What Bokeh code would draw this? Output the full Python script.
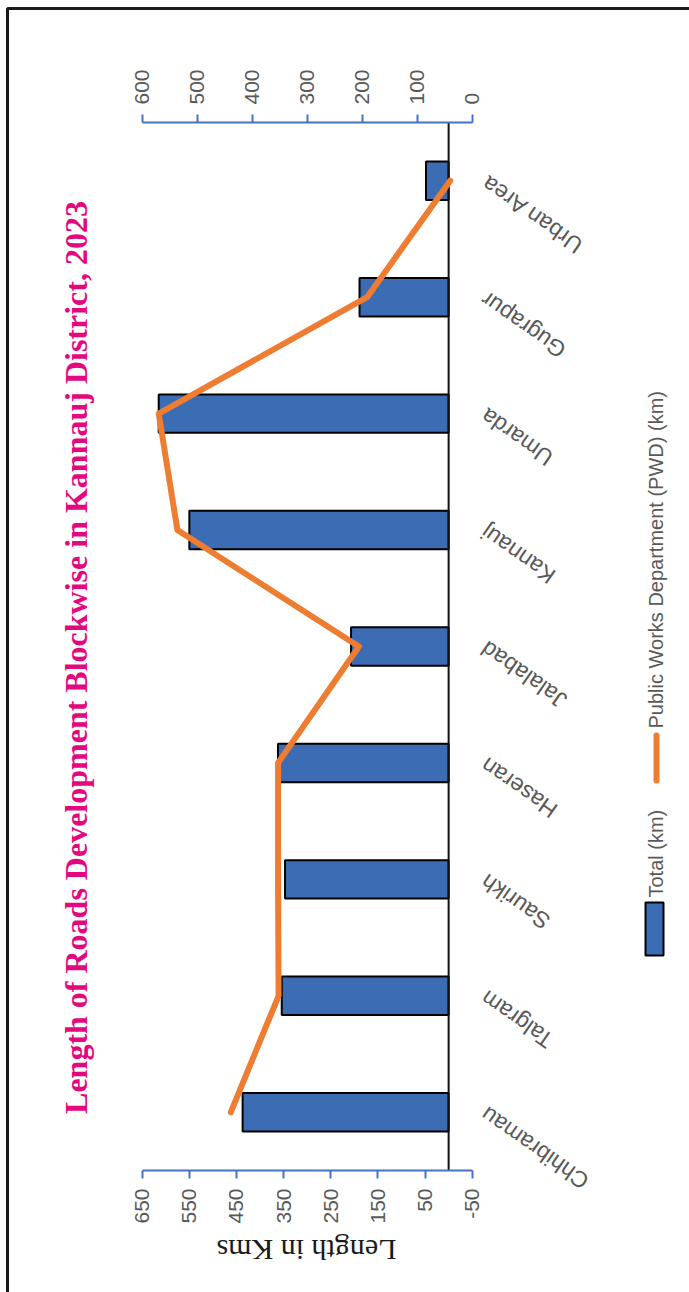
import math
from bokeh.plotting import figure
from bokeh.models import (FactorRange, Range1d, LinearAxis, FixedTicker, Label,
                          BoxAnnotation, ColumnDataSource, PrintfTickFormatter)
from bokeh.core.properties import value
from bokeh.embed import file_html
from bokeh.resources import INLINE

# ---------------- data ----------------
categories = ["Chhibramau", "Talgram", "Saurikh", "Haseran", "Jalalabad",
              "Kannauj", "Umarda", "Gugrapur", "Urban Area"]
total_km = [437, 354, 347, 362, 207, 550, 615, 189, 48]
pwd_km = [439, 352, 353, 353, 206, 536, 570, 191, 40]
primary_ticks = [-50, 50, 150, 250, 350, 450, 550, 650]
secondary_ticks = [0, 100, 200, 300, 400, 500, 600]
title_text = "Length of Roads Development Blockwise in Kannauj District, 2023"
axis_title = "Length in Kms"
legend_total = "Total (km)"
legend_pwd = "Public Works Department (PWD) (km)"

# ---------------- layout constants ----------------
W, H = 689, 1292
AXIS_TOP_PX = 122                 # pixel row of the upper (secondary) axis
AXIS_BOTTOM_PX = H - AXIS_TOP_PX  # pixel row of the lower (primary) axis
AX_LEFT_PX, AX_RIGHT_PX = 141.7, 471.7

p1_min, p1_max = primary_ticks[0], primary_ticks[-1]
s_min, s_max = secondary_ticks[0], secondary_ticks[-1]
ppu1 = (AX_RIGHT_PX - AX_LEFT_PX) / (p1_max - p1_min)
ppu2 = (AX_RIGHT_PX - AX_LEFT_PX) / (s_max - s_min)
x1_start = p1_max + AX_LEFT_PX / ppu1
x1_end = p1_min - (W - AX_RIGHT_PX) / ppu1
x2_start = s_max + AX_LEFT_PX / ppu2
x2_end = s_min - (W - AX_RIGHT_PX) / ppu2

n_cat = len(categories)
band = (AXIS_BOTTOM_PX - AXIS_TOP_PX) / n_cat
pad = AXIS_TOP_PX / band  # synthetic units of padding on each side


def xd(px):
    return x1_start + px * (x1_end - x1_start) / W


def yd(py):
    return (AXIS_BOTTOM_PX - py) / band


BLUE_AX = "#4472C4"
BAR_FILL = "#3C6CB4"
ORANGE = "#EE7D31"
GREY = "#595959"
PINK = "#E4087F"
SANS = "Liberation Sans"
SERIF = "Liberation Serif"

src = ColumnDataSource(dict(cat=categories, total=total_km, pwd=pwd_km))

p = figure(width=W, height=H, output_backend="svg", toolbar_location=None,
           x_range=Range1d(x1_start, x1_end),
           y_range=FactorRange(factors=categories, range_padding=pad,
                               range_padding_units="absolute"),
           x_axis_location=None, y_axis_location=None,
           min_border=0, min_border_left=0, min_border_right=0,
           min_border_top=0, min_border_bottom=0)
p.extra_x_ranges = {"pwd": Range1d(x2_start, x2_end)}
p.grid.visible = False
p.outline_line_color = None
p.background_fill_color = "white"
p.border_fill_color = "white"

# bars
p.hbar(y="cat", left=0, right="total", height=0.33, source=src,
       fill_color=BAR_FILL, line_color="black", line_width=2)

# zero line between the two value axes
p.segment(x0=0, x1=0, y0=0, y1=n_cat, line_color="#111111", line_width=2)

# PWD line on secondary axis
p.line(x="pwd", y="cat", source=src, x_range_name="pwd", line_color=ORANGE,
       line_width=6, line_join="round", line_cap="round")

# category labels
p.text(x=xd(483), y="cat", text="cat", source=src, angle=math.radians(145),
       text_align="right", text_baseline="middle", text_color=GREY,
       text_font=value(SANS), text_font_size="23px")


def style_axis(ax):
    ax.axis_line_color = BLUE_AX
    ax.axis_line_width = 2
    ax.major_tick_line_color = BLUE_AX
    ax.major_tick_line_width = 2
    ax.major_tick_in = 0
    ax.major_tick_out = 8
    ax.minor_tick_line_color = None
    ax.major_label_orientation = math.pi / 2
    ax.major_label_text_font = SANS
    ax.major_label_text_font_size = "21px"
    ax.major_label_text_color = GREY
    ax.major_label_standoff = 10
    ax.formatter = PrintfTickFormatter(format="%d")


bottom = LinearAxis(ticker=FixedTicker(ticks=primary_ticks), bounds=(p1_min, p1_max),
                    fixed_location=0)
style_axis(bottom)
p.add_layout(bottom, "below")

top = LinearAxis(x_range_name="pwd", ticker=FixedTicker(ticks=secondary_ticks),
                 bounds=(s_min, s_max), fixed_location=n_cat)
style_axis(top)
p.add_layout(top, "above")

# title
p.add_layout(Label(x=xd(75), y=yd(657), text=title_text, angle=math.pi / 2,
                   text_align="center", text_baseline="middle", text_color=PINK,
                   text_font=SERIF, text_font_style="bold", text_font_size="32px"))

# axis title (upside down)
p.add_layout(Label(x=xd(306), y=yd(1250), text=axis_title, angle=math.pi,
                   text_align="center", text_baseline="middle", text_color="#1a1a1a",
                   text_font=SERIF, text_font_size="30px"))

# legend
p.quad(left=xd(645), right=xd(663), top=yd(902), bottom=yd(955),
       fill_color=BAR_FILL, line_color="black", line_width=2)
p.add_layout(Label(x=xd(655), y=yd(897), text=legend_total, angle=math.pi / 2,
                   text_align="left", text_baseline="middle", text_color=GREY,
                   text_font=SANS, text_font_size="20px"))
p.segment(x0=xd(656), x1=xd(656), y0=yd(780), y1=yd(735), line_color=ORANGE,
          line_width=6, line_cap="round")
p.add_layout(Label(x=xd(655), y=yd(728), text=legend_pwd, angle=math.pi / 2,
                   text_align="left", text_baseline="middle", text_color=GREY,
                   text_font=SANS, text_font_size="20px"))

# outer border
p.add_layout(BoxAnnotation(left=xd(7), right=xd(720), top=yd(8), bottom=yd(1320),
                           fill_alpha=0, line_alpha=1, line_color="#1a1a1a",
                           line_width=3))

open("out.html", "w").write(file_html(p, INLINE))
